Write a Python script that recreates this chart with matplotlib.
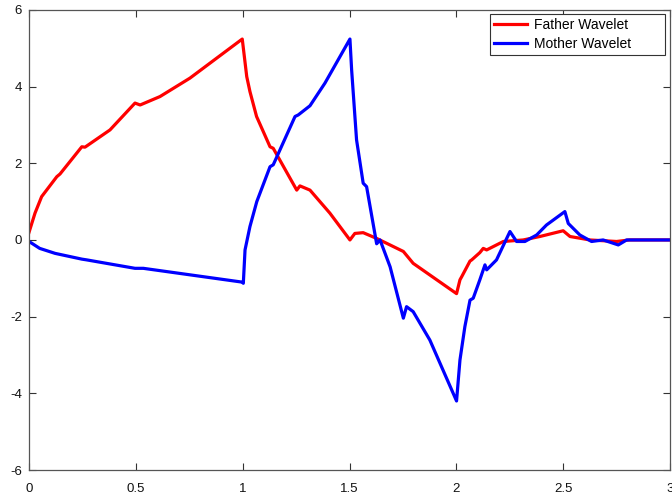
import matplotlib
matplotlib.use("Agg")
import matplotlib.pyplot as plt

father_x = [0.0, 0.028, 0.059, 0.13, 0.145, 0.247, 0.262, 0.379, 0.496, 0.52, 0.613, 0.753, 0.998,
            1.019, 1.034, 1.065, 1.128, 1.143, 1.253, 1.268, 1.315, 1.408, 1.502, 1.525, 1.564, 1.627,
            1.752, 1.798, 2.001, 2.017, 2.025, 2.064, 2.072, 2.11, 2.126, 2.142, 2.22, 2.313, 2.391,
            2.5, 2.532, 2.625, 2.75, 2.81, 3.0]
father_y = [0.2, 0.7, 1.13, 1.65, 1.72, 2.43, 2.42, 2.87, 3.57, 3.52, 3.74, 4.22, 5.24,
            4.26, 3.87, 3.22, 2.43, 2.39, 1.30, 1.41, 1.30, 0.70, 0.0, 0.17, 0.19, 0.04,
            -0.30, -0.61, -1.40, -1.04, -0.96, -0.55, -0.52, -0.33, -0.22, -0.26, -0.04, 0.0, 0.09,
            0.24, 0.09, 0.0, -0.04, 0.0, 0.0]

mother_x = [0.0, 0.05, 0.122, 0.247, 0.27, 0.496, 0.535, 0.998,
            1.003, 1.011, 1.034, 1.066, 1.128, 1.143, 1.245, 1.26, 1.315, 1.385, 1.502,
            1.51, 1.533, 1.564, 1.58, 1.627, 1.643, 1.69, 1.752, 1.767, 1.798, 1.876, 2.001,
            2.017, 2.04, 2.064, 2.079, 2.11, 2.134, 2.142, 2.188, 2.251, 2.282, 2.321, 2.376,
            2.422, 2.508, 2.524, 2.578, 2.633, 2.687, 2.758, 2.797, 3.0]
mother_y = [-0.04, -0.22, -0.35, -0.5, -0.52, -0.74, -0.74, -1.1,
            -1.13, -0.26, 0.35, 1.0, 1.91, 1.96, 3.22, 3.26, 3.5, 4.09, 5.24,
            4.43, 2.61, 1.48, 1.39, -0.1, 0.0, -0.7, -2.04, -1.74, -1.87, -2.61, -4.2,
            -3.13, -2.26, -1.57, -1.52, -1.04, -0.65, -0.78, -0.52, 0.22, -0.04, -0.04, 0.13,
            0.39, 0.74, 0.43, 0.13, -0.04, 0.0, -0.13, 0.0, 0.0]

xticks = [0, 0.5, 1, 1.5, 2, 2.5, 3]
xticklabels = ["0", "0.5", "1", "1.5", "2", "2.5", "3"]
yticks = [-6, -4, -2, 0, 2, 4, 6]
yticklabels = ["-6", "-4", "-2", "0", "2", "4", "6"]

plt.rcParams['font.family'] = ['Liberation Sans', 'DejaVu Sans']
plt.rcParams['axes.unicode_minus'] = False
fig = plt.figure(figsize=(6.72, 4.95), dpi=100)
ax = fig.add_axes([0.0432, 0.0505, 0.9538, 0.9295])
ax.plot(father_x, father_y, color='#ff0000', lw=2.3, label='Father Wavelet', solid_joinstyle='round')
ax.plot(mother_x, mother_y, color='#0000ff', lw=2.3, label='Mother Wavelet', solid_joinstyle='round')
ax.set_xlim(0, 3)
ax.set_ylim(-6, 6)
ax.set_xticks(xticks)
ax.set_xticklabels(xticklabels)
ax.set_yticks(yticks)
ax.set_yticklabels(yticklabels)
ax.tick_params(direction='in', top=True, right=True, length=5, width=0.8, labelsize=9.5,
               color='#333333', labelcolor='#111111')
ax.tick_params(axis='x', pad=9)
ax.tick_params(axis='y', pad=5)
for s in ax.spines.values():
    s.set_color('#555555')
    s.set_linewidth(0.9)
leg = ax.legend(loc='upper left', bbox_to_anchor=(0.719, 0.902, 0.273, 0.089), mode='expand',
                borderaxespad=0, fontsize=10, fancybox=False, framealpha=1,
                edgecolor='#333333', borderpad=0.3, handlelength=2.4, handletextpad=0.45,
                labelspacing=0.35)
leg.get_frame().set_linewidth(0.8)
fig.savefig('out.png', dpi=100)
